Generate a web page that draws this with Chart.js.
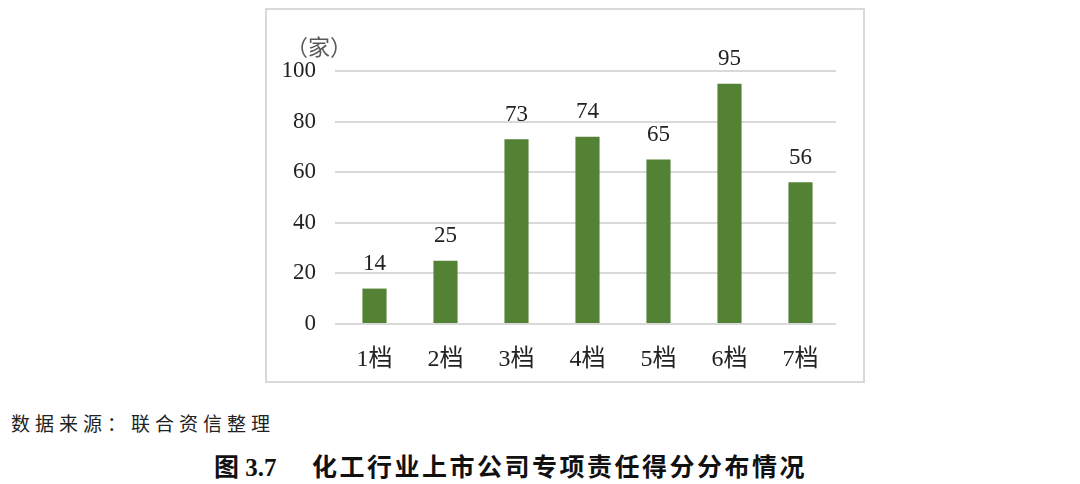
<!DOCTYPE html>
<html>
<head>
<meta charset="utf-8">
<script src="https://cdn.jsdelivr.net/npm/chart.js@4/dist/chart.umd.min.js"></script>
<style>
  body { margin: 0; background: #fff; width: 1080px; height: 484px; position: relative; overflow: hidden; }
  .box { position: absolute; left: 265px; top: 8px; width: 600px; height: 375px; box-sizing: border-box; border: 2px solid #d9d9d9; }
  .unit { position: absolute; left: 19px; top: 19px; font: 22px "Noto Sans CJK SC", sans-serif; color: #595959; }
  .source { position: absolute; left: 11px; top: 409px; font: 19px "Noto Sans CJK SC", sans-serif; letter-spacing: 5px; color: #222; }
  .title { position: absolute; left: 214px; top: 447px; font: bold 25px "Liberation Serif", "Noto Sans CJK SC", serif; color: #111; white-space: pre; }
  .title .zh { position: absolute; left: 98px; top: 0; letter-spacing: 2.5px; }
</style>
</head>
<body>
<div class="box">
  <canvas id="chart" width="596" height="371"></canvas>
  <div class="unit">（家）</div>
</div>
<div class="source">数据来源：联合资信整理</div>
<div class="title">图 3.7<span class="zh">化工行业上市公司专项责任得分分布情况</span></div>
<script>
const categories = ['1档', '2档', '3档', '4档', '5档', '6档', '7档']
const counts = [14, 25, 73, 74, 65, 95, 56]
const yTicks = [0, 20, 40, 60, 80, 100]

const textFont = '"Liberation Serif", "Noto Sans CJK SC", serif'

// value labels above each bar
const barLabels = {
  id: 'barLabels',
  afterDatasetsDraw(chart) {
    const ctx = chart.ctx
    const meta = chart.getDatasetMeta(0)
    ctx.save()
    ctx.font = '23px ' + textFont
    ctx.fillStyle = '#222'
    ctx.textAlign = 'center'
    ctx.textBaseline = 'bottom'
    meta.data.forEach((bar, i) => {
      ctx.fillText(counts[i], bar.x, bar.y - 13)
    })
    ctx.restore()
  }
}

new Chart(document.getElementById('chart'), {
  type: 'bar',
  data: {
    labels: categories,
    datasets: [{
      data: counts,
      backgroundColor: '#548235',
      barPercentage: 0.34,
      categoryPercentage: 1
    }]
  },
  options: {
    responsive: false,
    animation: false,
    layout: { padding: { top: 61, right: 27, left: 0, bottom: 0 } },
    plugins: { legend: { display: false }, tooltip: { enabled: false } },
    scales: {
      x: {
        grid: { display: false },
        border: { display: false },
        ticks: { font: { size: 24, family: textFont }, color: '#222', padding: 13 },
        afterFit: scale => { scale.height = 57 }
      },
      y: {
        min: 0,
        max: 100,
        afterBuildTicks: scale => { scale.ticks = yTicks.map(v => ({ value: v })) },
        grid: { color: '#d9d9d9', lineWidth: 2, tickLength: 4, tickColor: '#d9d9d9' },
        border: { display: false },
        ticks: { font: { size: 23, family: textFont }, color: '#222', padding: 19 },
        afterFit: scale => { scale.width = 72 }
      }
    }
  },
  plugins: [barLabels]
})
</script>
</body>
</html>
